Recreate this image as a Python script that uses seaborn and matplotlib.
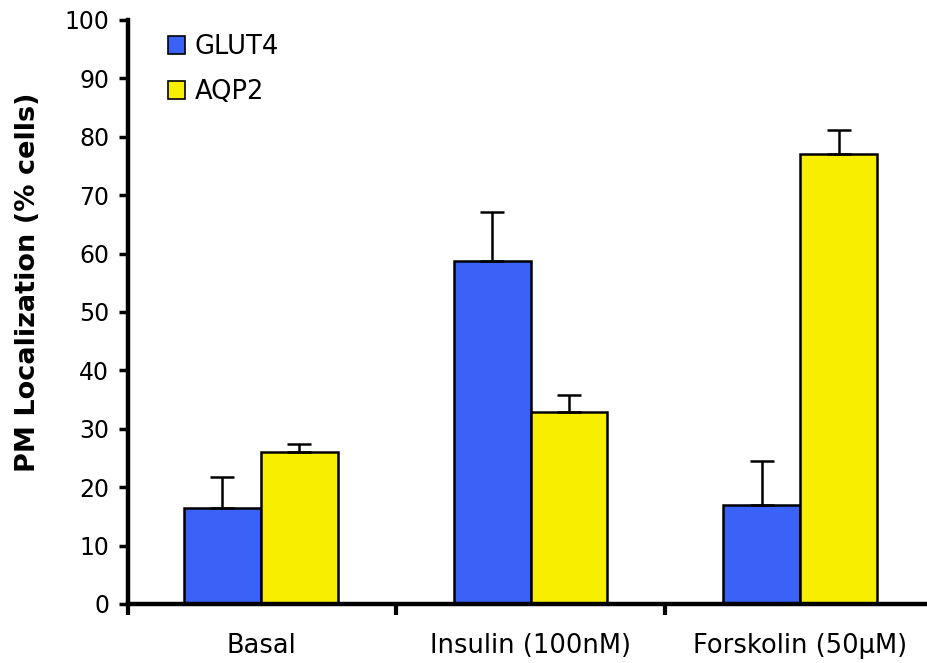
import pandas as pd
import numpy as np
import matplotlib.pyplot as plt
import seaborn as sns

# Values
treatments = ["Basal", "Insulin (100nM)", "Forskolin (50µM)"]
glut4_mean = [16.4, 58.7, 17.0]
glut4_err = [5.3, 8.4, 7.4]
aqp2_mean = [26.0, 32.9, 77.0]
aqp2_err = [1.4, 2.9, 4.2]

df = pd.DataFrame({
    "Treatment": treatments * 2,
    "Protein": ["GLUT4"] * 3 + ["AQP2"] * 3,
    "PM": glut4_mean + aqp2_mean,
})
errs = {"GLUT4": glut4_err, "AQP2": aqp2_err}

sns.set_style("ticks")
plt.rcParams["font.family"] = ["DejaVu Sans"]

fig = plt.figure(figsize=(9.27, 6.63), dpi=100)
ax = fig.add_axes([0.138, 0.089, 0.862, 0.881])

sns.barplot(
    data=df, x="Treatment", y="PM", hue="Protein",
    palette={"GLUT4": "#3A62F7", "AQP2": "#F8EE00"},
    width=0.57, gap=0, edgecolor="black", linewidth=1.8,
    errorbar=None, ax=ax, saturation=1,
)

# upward-only error bars
for cont, name in zip(ax.containers, ["GLUT4", "AQP2"]):
    xs = [p.get_x() + p.get_width() / 2 for p in cont]
    hs = [p.get_height() for p in cont]
    e = errs[name]
    ax.errorbar(xs, hs, yerr=[np.zeros(len(e)), e], fmt="none",
                ecolor="black", elinewidth=1.8, capsize=8.6, capthick=1.8,
                zorder=1)

xleft, xright = -0.493, 2.47
ax.set_xlim(xleft, xright)
ax.set_ylim(0, 100)
ax.set_yticks(range(0, 101, 10))
ax.tick_params(axis="y", labelsize=17, width=2.5, length=6.5, pad=7,
               direction="out", color="black", labelcolor="black")
ax.set_xticks([0, 1, 2])
ax.set_xticklabels(treatments)
ax.tick_params(axis="x", labelsize=18.5, length=0, pad=21, labelcolor="black")
ax.set_xticks([xleft, 0.5, 1.5], minor=True)
ax.tick_params(axis="x", which="minor", width=3, length=8, direction="out",
               color="black")

sns.despine(ax=ax, top=True, right=True)
for s in ["left", "bottom"]:
    ax.spines[s].set_linewidth(3.2)
    ax.spines[s].set_color("black")

ax.set_xlabel("")
ax.set_ylabel("PM Localization (% cells)", fontsize=19.5, fontweight="bold",
              color="black")
ax.yaxis.set_label_coords(-0.109, 0.551)

leg = ax.legend(loc="upper left", bbox_to_anchor=(0.05, 0.976), frameon=False,
                fontsize=18.5, handlelength=0.68, handleheight=0.68,
                handletextpad=0.35, labelspacing=0.75, borderaxespad=0,
                borderpad=0)
for h in leg.legend_handles:
    h.set_edgecolor("black")
    h.set_linewidth(1.2)
for t in leg.get_texts():
    t.set_color("black")

fig.savefig("out.png", dpi=100)
